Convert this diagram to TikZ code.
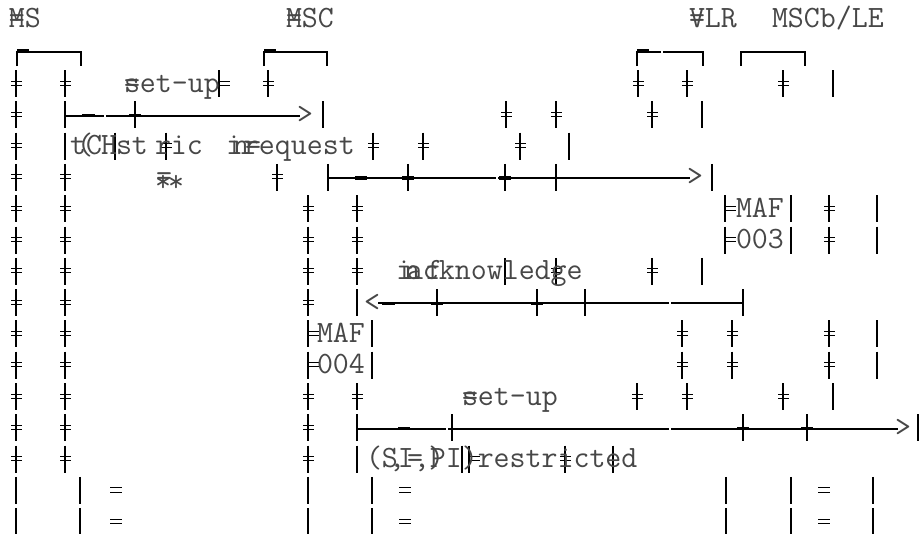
\documentclass[tikz,border=0pt]{standalone}
\usepackage{fontspec}
\usetikzlibrary{calc}

\begin{document}
\begin{tikzpicture}[x=1pt,y=-1pt,
  txt/.style={inner sep=0pt,outer sep=0pt,anchor=base west,text=black!72,
    font=\fontsize{31}{31}\selectfont\ttfamily},
  lifebar/.style={line width=1.2pt},
  lifethick/.style={line width=2.4pt},
  lifeeq/.style={line width=1pt},
  msgline/.style={line width=2pt},
  msgthick/.style={line width=3.6pt},
  msggap/.style={white,line width=1.5pt},
  hdbracket/.style={line width=2.2pt,line join=miter}]
  \useasboundingbox[fill=white] (0,0) rectangle (924,533);

  % baseline of row r
  \def\rowy#1{(92+(#1-2)*31.3)}
  \def\lbar#1#2{\draw[lifebar] (#1,{\rowy{#2}-22}) -- (#1,{\rowy{#2}+5});}
  \def\lthick#1#2{\draw[lifethick] (#1,{\rowy{#2}-22}) -- (#1,{\rowy{#2}+5});}
  \def\lequ#1#2{\draw[lifeeq] ({#1-6},{\rowy{#2}-11}) -- ({#1+6},{\rowy{#2}-11})
      ({#1-6},{\rowy{#2}-6.5}) -- ({#1+6},{\rowy{#2}-6.5});}
  \def\lbareq#1#2{\lbar{#1}{#2}\draw[lifeeq] ({#1-5},{\rowy{#2}-11}) -- ({#1+6},{\rowy{#2}-11})
      ({#1-5},{\rowy{#2}-7}) -- ({#1+6},{\rowy{#2}-7});}
  \def\lbarrt#1#2{\lbar{#1}{#2}\draw[lifeeq] (#1,{\rowy{#2}-11}) -- ({#1+11},{\rowy{#2}-11})
      (#1,{\rowy{#2}-7}) -- ({#1+11},{\rowy{#2}-7});}
  \def\mseg#1#2#3{\draw[msgthick] (#1,{\rowy{#3}-7.8}) -- (#2,{\rowy{#3}-7.8});}
  \def\mgap#1#2{\draw[msggap] (#1,{\rowy{#2}-10.5}) -- (#1,{\rowy{#2}-5});}

  % headers
  \node[txt] (ms)   at (9,27)   {MS};
  \node[txt] (msc)  at (286,27) {MSC};
  \node[txt] (vlr)  at (689,27) {VLR};
  \node[txt] (mscb) at (772,27) {MSCb/LE};
  \foreach \x in {9,286,689} \node[txt] at (\x,27) {=};

  % brackets
  \foreach \a/\b in {17/81,264/327,637/703,741/805}
    \draw[hdbracket] (\a,66) -- (\a,52) -- (\b,52) -- (\b,66);
  \foreach \a in {17,264,637} \draw[line width=2pt] (\a,50) -- ({\a+12},50);
  \draw[msggap] (662,49) -- (662,55);

  % messages
  \coordinate (m1s) at (65,{\rowy{3}-7.8});  \coordinate (m1e) at (300,{\rowy{3}-7.8});
  \coordinate (m2s) at (328,{\rowy{5}-7.8}); \coordinate (m2e) at (690,{\rowy{5}-7.8});
  \coordinate (m3s) at (743,{\rowy{9}-7.8}); \coordinate (m3e) at (378,{\rowy{9}-7.8});
  \coordinate (m4s) at (357,{\rowy{13}-7.8}); \coordinate (m4e) at (898,{\rowy{13}-7.8});
  \draw[msgline] (m1s) -- (m1e);
  \draw[msgline] (m2s) -- (m2e);
  \draw[msgline] (m3s) -- (m3e);
  \draw[msgline] (m4s) -- (m4e);
  \foreach \x/\r in {105/3,497/5,670/9,447/13,670/13} {\mgap{\x}{\r}}
  \foreach \a/\b/\r in {82/95/3,129/141/3,355/367/5,402/414/5,499/511/5,
      382/395/9,431/443/9,531/543/9,398/410/13,737/749/13,801/813/13} {\mseg{\a}{\b}{\r}}
  \node[txt] (h1) at (297,{\rowy{3}}) {>};
  \node[txt] (h2) at (687,{\rowy{5}}) {>};
  \node[txt] (h3) at (364,{\rowy{9}}) {<};
  \node[txt] (h4) at (895,{\rowy{13}}) {>};

  % life lines
  \foreach \r in {2,...,14} {\lbareq{16}{\r}}
  \foreach \r in {2,5,6,...,14} {\lbareq{65}{\r}}
  \foreach \x/\r in {268/2,638/2,687/2,783/2,506/3,556/3,652/3,
      166/4,373/4,423/4,520/4,277/5,
      308/6,357/6,829/6,308/7,357/7,829/7,
      308/8,357/8,556/8,652/8,308/9,
      682/10,732/10,829/10,682/11,732/11,829/11,
      308/12,357/12,637/12,687/12,783/12,308/13,308/14,565/14} {\lbareq{\x}{\r}}
  \foreach \x/\r in {833/2,323/3,702/3,135/3,65/4,115/4,569/4,
      408/5,505/5,556/5,712/5,791/6,877/6,791/7,877/7,505/8,702/8,
      357/9,437/9,537/9,585/9,372/10,877/10,372/11,877/11,833/12,
      452/13,918/13,357/14,462/14,613/14} {\lbar{\x}{\r}}
  \foreach \r in {15,16}
    \foreach \x in {16,80,308,372,726,791,873} {\lbar{\x}{\r}}
  \foreach \r in {15,16}
    \foreach \x in {116,405,824} {\lequ{\x}{\r}}
  \foreach \x/\r in {65/3,328/5,743/9,357/13,743/13,807/13} {\lthick{\x}{\r}}
  \foreach \x/\r in {219/2,725/6,725/7,308/10,308/11,469/14} {\lbarrt{\x}{\r}}

  % labels
  \node[txt] (setupA) at (124,{\rowy{2}}) {set-up};
  \node[txt] at (124,{\rowy{2}}) {=};
  \foreach \c/\x in {t/70,{(}/77,C/86,H/101,st/116,ric/155,i/226,n/233,=/245}
    \node[txt] at (\x,{\rowy{4}}) {\c};
  \node[txt] (req) at (243,{\rowy{4}}) {request};
  \node[txt] at (155,{\rowy{5}+6}) {*};
  \node[txt] at (168,{\rowy{5}+6}) {*};
  \node[txt] at (156,{\rowy{5}}) {=};
  \node[txt] (maf1) at (736,{\rowy{6}}) {MAF};
  \node[txt] (n003) at (736,{\rowy{7}}) {003};
  \foreach \c/\x in {i/396,n/404,f/426}
    \node[txt] at (\x,{\rowy{8}}) {\c};
  \node[txt] (ack) at (407,{\rowy{8}}) {acknowledge};
  \node[txt] (maf2) at (317,{\rowy{10}}) {MAF};
  \node[txt] (n004) at (317,{\rowy{11}}) {004};
  \node[txt] (setupB) at (462,{\rowy{12}}) {set-up};
  \node[txt] at (462,{\rowy{12}}) {=};
  \node[txt] (restr) at (366,{\rowy{14}}) {(SI,PI)restricted};
  \foreach \c/\x in {{,}/389,=/407,{)}/428}
    \node[txt] at (\x,{\rowy{14}}) {\c};
\end{tikzpicture}
\end{document}
